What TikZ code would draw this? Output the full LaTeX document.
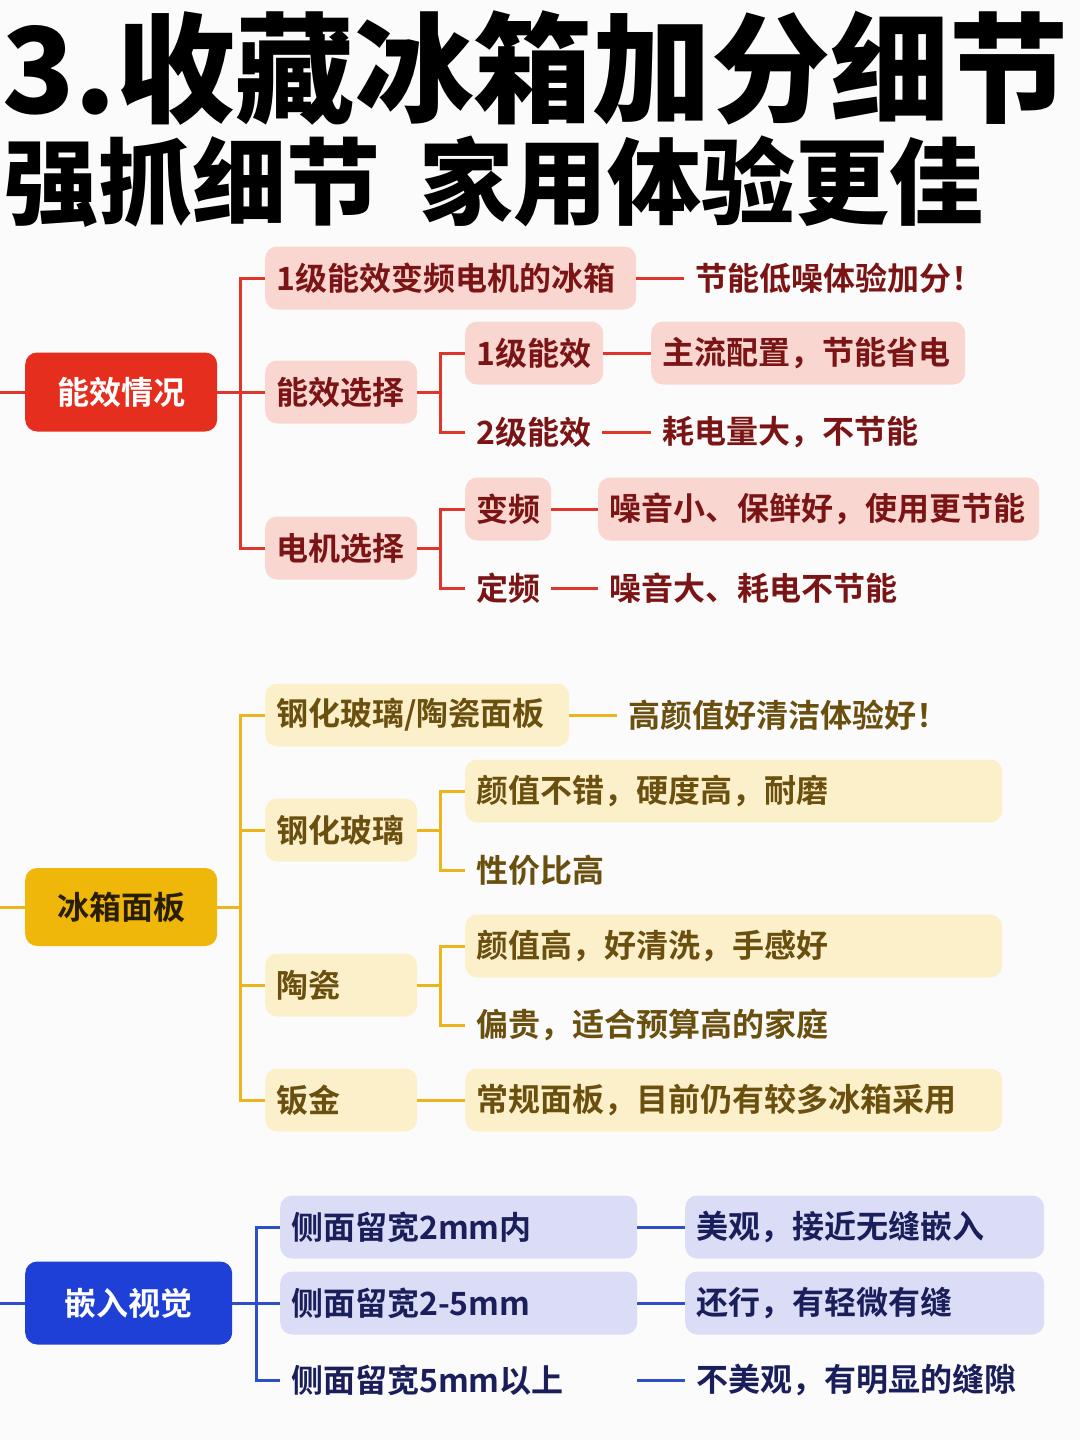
\documentclass[tikz,border=0pt]{standalone}
\usepackage{fontspec}
\setmainfont{Noto Sans CJK SC}[BoldFont=* Bold]
\newfontfamily\titlefont{Noto Sans CJK SC Black}
\definecolor{bgc}{HTML}{FBFBFB}
\definecolor{RRoot}{HTML}{E62E1E}
\definecolor{RLn}{HTML}{E0352A}
\definecolor{RFill}{HTML}{FAD6D0}
\definecolor{RTxt}{HTML}{7B1515}
\definecolor{YRoot}{HTML}{EFB70A}
\definecolor{YLn}{HTML}{EDB51C}
\definecolor{YFill}{HTML}{FCF0CB}
\definecolor{YTxt}{HTML}{6A4F0E}
\definecolor{YRootTxt}{HTML}{2A1E00}
\definecolor{BRoot}{HTML}{1F40D6}
\definecolor{BLn}{HTML}{2F4FC8}
\definecolor{BFill}{HTML}{DADDF5}
\definecolor{BTxt}{HTML}{1A1F5C}
\tikzset{
  base/.style={font=\bfseries\fontsize{32}{38}\selectfont, anchor=west, inner xsep=11pt, inner ysep=0pt, minimum height=63pt, align=left},
  rootbox/.style={font=\bfseries\fontsize{32}{38}\selectfont, anchor=west, rounded corners=12pt, inner sep=0pt, align=center},
  rbox/.style={base, fill=RFill, text=RTxt, rounded corners=12pt},
  rtxt/.style={base, text=RTxt},
  ybox/.style={base, fill=YFill, text=YTxt, rounded corners=12pt},
  ytxt/.style={base, text=YTxt},
  bbox/.style={base, fill=BFill, text=BTxt, rounded corners=12pt},
  btxt/.style={base, text=BTxt},
  rl/.style={draw=RLn, line width=3pt},
  yl/.style={draw=YLn, line width=3pt},
  bl/.style={draw=BLn, line width=3pt},
}
\begin{document}
\begin{tikzpicture}[x=1pt,y=-1pt]
\fill[bgc] (0,0) rectangle (1080,1440);
\useasboundingbox (0,0) rectangle (1080,1440);
% titles
\node[anchor=west, inner sep=0pt, font=\titlefont\fontsize{119}{120}\selectfont, text=black] (t1) at (2,68) {3.收藏冰箱加分细节};
\node[anchor=west, inner sep=0pt, font=\titlefont\fontsize{94}{96}\selectfont, text=black] (t2) at (4,182) {强抓细节\hspace{39pt}家用体验更佳};

% ===== Section 1 =====
\node[rootbox, fill=RRoot, text=white, minimum width=192pt, minimum height=79pt] (R) at (25,392) {能效情况};
\coordinate (RL) at (0,392);
\coordinate (RT) at (240,392);
\coordinate (RT2) at (440,392);
\coordinate (RT3) at (440,548);
\node[rbox, text width=349pt] (r1) at (265,278) {1级能效变频电机的冰箱};
\node[rtxt] (r1n) at (684,278) {节能低噪体验加分！};
\node[rbox, text width=130pt] (r2) at (265,392) {能效选择};
\node[rbox, text width=116pt] (r21) at (465,353) {1级能效};
\node[rbox, text width=292pt] (r21n) at (651,353) {主流配置，节能省电};
\node[rtxt] (r22) at (465,432) {2级能效};
\node[rtxt] (r22n) at (651,432) {耗电量大，不节能};
\node[rbox, text width=130pt] (r3) at (265,548) {电机选择};
\node[rbox, text width=64pt] (r31) at (465,509) {变频};
\node[rbox, text width=419pt] (r31n) at (598,509) {噪音小、保鲜好，使用更节能};
\node[rtxt] (r32) at (465,588) {定频};
\node[rtxt] (r32n) at (598,588) {噪音大、耗电不节能};
\draw[rl] (RL) -- (R.west);
\draw[rl] (R.east) -- (RT) |- (r1.west);
\draw[rl] (RT) -- (r2.west);
\draw[rl] (RT) |- (r3.west);
\draw[rl] (r1.east) -- (r1n.west);
\draw[rl] (r2.east) -- (RT2) |- (r21.west);
\draw[rl] (RT2) |- (r22.west);
\draw[rl] (r21.east) -- (r21n.west);
\draw[rl] (r22.east) -- (r22n.west);
\draw[rl] (r3.east) -- (RT3) |- (r31.west);
\draw[rl] (RT3) |- (r32.west);
\draw[rl] (r31.east) -- (r31n.west);
\draw[rl] (r32.east) -- (r32n.west);

% ===== Section 2 =====
\node[rootbox, fill=YRoot, text=YRootTxt, minimum width=192pt, minimum height=78pt] (Y) at (25,907) {冰箱面板};
\coordinate (YL) at (0,907);
\coordinate (YT) at (240,907);
\coordinate (YT2) at (440,830);
\coordinate (YT3) at (440,985);
\node[ybox, text width=282pt] (y1) at (265,715) {钢化玻璃/陶瓷面板};
\node[ytxt] (y1n) at (617,715) {高颜值好清洁体验好！};
\node[ybox, text width=130pt] (y2) at (265,830) {钢化玻璃};
\node[ybox, text width=515pt] (y21) at (465,791) {颜值不错，硬度高，耐磨};
\node[ytxt] (y22) at (465,870) {性价比高};
\node[ybox, text width=130pt] (y3) at (265,985) {陶瓷};
\node[ybox, text width=515pt] (y31) at (465,946) {颜值高，好清洗，手感好};
\node[ytxt] (y32) at (465,1025) {偏贵，适合预算高的家庭};
\node[ybox, text width=130pt] (y4) at (265,1100) {钣金};
\node[ybox, text width=515pt] (y41) at (465,1100) {常规面板，目前仍有较多冰箱采用};
\draw[yl] (YL) -- (Y.west);
\draw[yl] (Y.east) -- (YT);
\draw[yl] (YT) |- (y1.west);
\draw[yl] (YT) |- (y2.west);
\draw[yl] (YT) |- (y3.west);
\draw[yl] (YT) |- (y4.west);
\draw[yl] (y1.east) -- (y1n.west);
\draw[yl] (y2.east) -- (YT2) |- (y21.west);
\draw[yl] (YT2) |- (y22.west);
\draw[yl] (y3.east) -- (YT3) |- (y31.west);
\draw[yl] (YT3) |- (y32.west);
\draw[yl] (y4.east) -- (y41.west);

% ===== Section 3 =====
\node[rootbox, fill=BRoot, text=white, minimum width=207pt, minimum height=83pt] (B) at (25,1303) {嵌入视觉};
\coordinate (BL) at (0,1303);
\coordinate (BT) at (256,1303);
\node[bbox, text width=335pt] (b1) at (280,1227) {侧面留宽2mm内};
\node[bbox, text width=337pt] (b1n) at (685,1227) {美观，接近无缝嵌入};
\node[bbox, text width=335pt] (b2) at (280,1303) {侧面留宽2-5mm};
\node[bbox, text width=337pt] (b2n) at (685,1303) {还行，有轻微有缝};
\node[btxt, text width=335pt] (b3) at (280,1380) {侧面留宽5mm以上};
\node[btxt] (b3n) at (685,1380) {不美观，有明显的缝隙};
\draw[bl] (BL) -- (B.west);
\draw[bl] (B.east) -- (BT);
\draw[bl] (BT) |- (b1.west);
\draw[bl] (BT) -- (b2.west);
\draw[bl] (BT) |- (b3.west);
\draw[bl] (b1.east) -- (b1n.west);
\draw[bl] (b2.east) -- (b2n.west);
\draw[bl] (b3.east) -- (b3n.west);
\end{tikzpicture}
\end{document}
